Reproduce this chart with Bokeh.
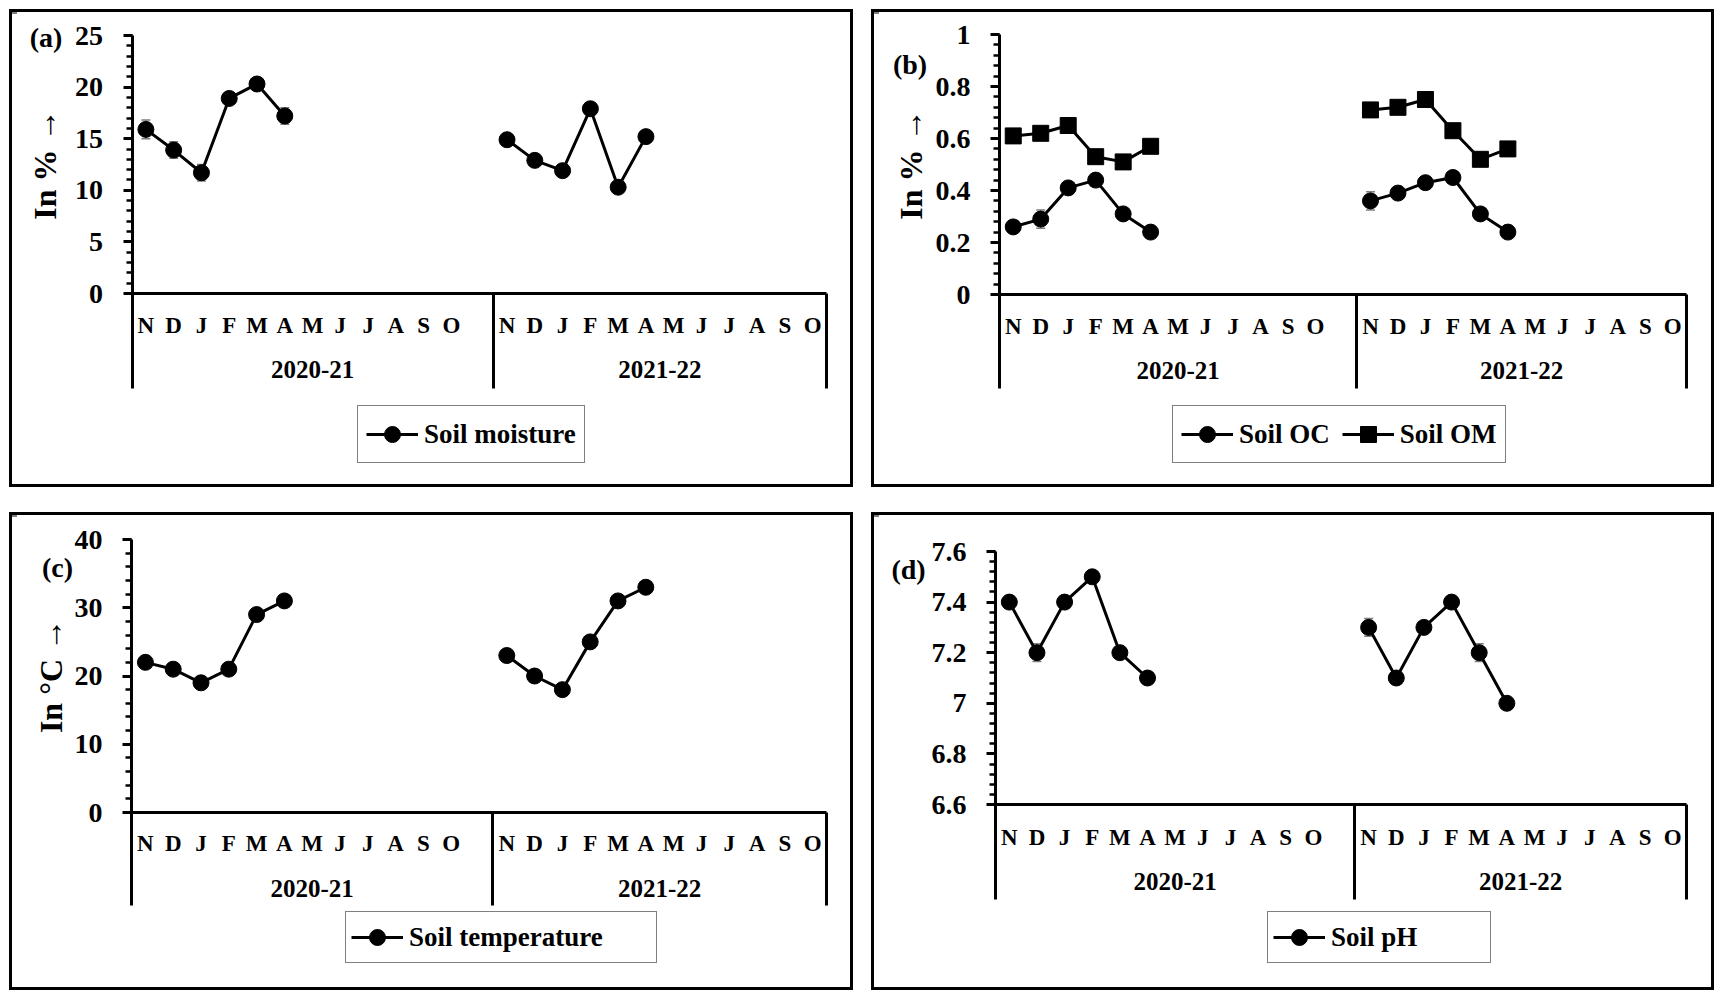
import numpy as np
from bokeh.plotting import figure
from bokeh.models import (Range1d, LinearAxis, FixedTicker, Legend, LegendItem,
                          Label, Whisker, ColumnDataSource, Spacer, TeeHead)
from bokeh.layouts import column, row
from bokeh.embed import file_html
from bokeh.resources import INLINE

# ---------------- data ----------------
months = ["N", "D", "J", "F", "M", "A", "M", "J", "J", "A", "S", "O"]
seasons = ["2020-21", "2021-22"]

moisture_2021 = [15.9, 13.9, 11.7, 18.9, 20.3, 17.2]
moisture_2122 = [14.9, 12.9, 11.9, 17.9, 10.3, 15.2]
moisture_err_2021 = [0.9, 0.8, 0.8, 0.3, 0.4, 0.8]
moisture_err_2122 = [0.2, 0.2, 0.2, 0.2, 0.2, 0.2]

oc_2021 = [0.26, 0.29, 0.41, 0.44, 0.31, 0.24]
oc_2122 = [0.36, 0.39, 0.43, 0.45, 0.31, 0.24]
oc_err_2021 = [0.01, 0.035, 0.01, 0.01, 0.01, 0.01]
oc_err_2122 = [0.035, 0.01, 0.01, 0.01, 0.01, 0.01]

om_2021 = [0.61, 0.62, 0.65, 0.53, 0.51, 0.57]
om_2122 = [0.71, 0.72, 0.75, 0.63, 0.52, 0.56]
om_err_2021 = [0.01, 0.01, 0.01, 0.01, 0.01, 0.01]
om_err_2122 = [0.01, 0.01, 0.01, 0.01, 0.01, 0.01]

temp_2021 = [22, 21, 19, 21, 29, 31]
temp_2122 = [23, 20, 18, 25, 31, 33]
temp_err_2021 = [0.3, 0.3, 0.3, 0.3, 0.3, 0.3]
temp_err_2122 = [0.3, 0.3, 0.3, 0.3, 0.3, 0.3]

ph_2021 = [7.4, 7.2, 7.4, 7.5, 7.2, 7.1]
ph_2122 = [7.3, 7.1, 7.3, 7.4, 7.2, 7.0]
ph_err_2021 = [0.01, 0.035, 0.01, 0.01, 0.01, 0.01]
ph_err_2122 = [0.035, 0.01, 0.01, 0.01, 0.035, 0.01]

# ---------------- layout helpers ----------------
FONT = "Liberation Serif"
N_SLOTS = 25                       # 13 slots for 1st season (one blank), 12 for 2nd
season_start = [0, 13]
month_pos = [season_start[s] + i + 0.5 for s in range(2) for i in range(len(months))]
month_labels = {month_pos[k]: months[k % 12] for k in range(24)}
year_pos = [6.5, 19]
year_labels = {year_pos[0]: seasons[0], year_pos[1]: seasons[1]}
separators = [0, 13, 25]
BORDER = 3


def season_series(v1, v2):
    """spread two seasons' Nov-Apr values over the 24 month slots (NaN = no sample)"""
    out = [np.nan] * 24
    for i, v in enumerate(v1):
        out[i] = v
    for i, v in enumerate(v2):
        out[12 + i] = v
    return out


def make_panel(box, axes_px, yr, yticks, yminor, ylabels, ytitle, title_standoff,
               tag, tag_px, series, legend_box, label_width, label_height, pad, spacing,
               sep_len, month_standoff, year_standoff):
    x0, y0, x1, y1 = box                      # outer panel box on the page
    L, T, R, B = x0 + BORDER, y0 + BORDER, x1 - BORDER, y1 - BORDER
    w, h = R - L, B - T
    ax_l, ax_r, ax_t, ax_b = axes_px          # page pixels of the plotting axes
    ymin, ymax = yr
    kx = (ax_r - ax_l) / N_SLOTS
    ky = (ax_b - ax_t) / (ymax - ymin)
    xs, xe = -(ax_l - L) / kx, N_SLOTS + (R - ax_r) / kx
    ys, ye = ymin - (B - ax_b) / ky, ymax + (ax_t - T) / ky

    p = figure(width=w, height=h, x_range=Range1d(xs, xe), y_range=Range1d(ys, ye),
               x_axis_type=None, y_axis_type=None, toolbar_location=None,
               output_backend="svg", min_border=0,
               background_fill_color="white", border_fill_color="white")
    p.outline_line_color = None

    # y axis
    ya = LinearAxis(ticker=FixedTicker(ticks=yticks, minor_ticks=yminor),
                    major_label_overrides=ylabels, fixed_location=0, bounds=(ymin, ymax))
    ya.axis_line_width = 3
    ya.axis_line_color = "black"
    ya.major_tick_out = 9
    ya.major_tick_in = 0
    ya.major_tick_line_width = 3
    ya.minor_tick_out = 6
    ya.minor_tick_in = 0
    ya.minor_tick_line_width = 2.5
    ya.major_label_text_font = FONT
    ya.major_label_text_font_style = "bold"
    ya.major_label_text_font_size = "28px"
    ya.major_label_text_color = "black"
    ya.major_label_standoff = 20
    if ytitle:
        ya.axis_label = ytitle
        ya.axis_label_text_font = FONT
        ya.axis_label_text_font_style = "bold"
        ya.axis_label_text_font_size = "32px"
        ya.axis_label_text_color = "black"
        ya.axis_label_standoff = title_standoff
    p.add_layout(ya, "left")

    # month axis
    xa = LinearAxis(ticker=FixedTicker(ticks=month_pos, minor_ticks=[]),
                    major_label_overrides=month_labels, fixed_location=ymin,
                    bounds=(0, N_SLOTS))
    xa.axis_line_width = 3
    xa.axis_line_color = "black"
    xa.major_tick_out = 0
    xa.major_tick_in = 0
    xa.major_tick_line_color = None
    xa.minor_tick_line_color = None
    xa.major_label_text_font = FONT
    xa.major_label_text_font_style = "bold"
    xa.major_label_text_font_size = "23px"
    xa.major_label_text_color = "black"
    xa.major_label_standoff = month_standoff
    p.add_layout(xa, "below")

    # season axis
    sa = LinearAxis(ticker=FixedTicker(ticks=year_pos, minor_ticks=[]),
                    major_label_overrides=year_labels, fixed_location=ymin,
                    bounds=(0, N_SLOTS))
    sa.axis_line_color = None
    sa.major_tick_line_color = None
    sa.minor_tick_line_color = None
    sa.major_tick_out = 0
    sa.major_tick_in = 0
    sa.major_label_text_font = FONT
    sa.major_label_text_font_style = "bold"
    sa.major_label_text_font_size = "25px"
    sa.major_label_text_color = "black"
    sa.major_label_standoff = year_standoff
    p.add_layout(sa, "below")

    # season separators (ticks of an unlabeled axis)
    ga = LinearAxis(ticker=FixedTicker(ticks=separators, minor_ticks=[]),
                    major_label_overrides={s: "" for s in separators},
                    fixed_location=ymin, bounds=(0, N_SLOTS))
    ga.axis_line_color = None
    ga.minor_tick_line_color = None
    ga.major_tick_out = sep_len
    ga.major_tick_in = 0
    ga.major_tick_line_width = 3
    ga.major_tick_line_color = "black"
    p.add_layout(ga, "below")

    items = []
    for s in series:
        vals = s["values"]
        errs = s["errors"]
        src = ColumnDataSource(dict(x=month_pos, y=vals,
                                    lo=[v - e for v, e in zip(vals, errs)],
                                    hi=[v + e for v, e in zip(vals, errs)]))
        wk = Whisker(source=src, base="x", lower="lo", upper="hi", dimension="height",
                     line_color="#7f7f7f", line_width=1.5,
                     upper_head=TeeHead(size=9, line_color="#7f7f7f", line_width=1.5),
                     lower_head=TeeHead(size=9, line_color="#7f7f7f", line_width=1.5))
        p.add_layout(wk)
        lr = p.line("x", "y", source=src, line_color="black", line_width=3)
        sr = p.scatter("x", "y", source=src, marker=s["marker"], size=16,
                       fill_color="black", line_color="black")
        items.append(LegendItem(label=s["label"], renderers=[lr, sr]))

    lx0, ly1 = legend_box                     # legend left and bottom on the page
    lg = Legend(items=items, location=(lx0 - L, B - ly1), orientation="horizontal",
                label_text_font=FONT, label_text_font_style="bold",
                label_text_font_size="27px", label_text_color="black",
                glyph_width=52, glyph_height=40, label_standoff=6,
                label_width=label_width, label_height=label_height,
                padding=pad, spacing=spacing, margin=0,
                border_line_color="black", border_line_width=1.5,
                background_fill_color="white", background_fill_alpha=1)
    p.add_layout(lg)

    tx = (tag_px[0] - ax_l) / kx
    ty = ymax - (tag_px[1] - ax_t) / ky
    p.add_layout(Label(x=tx, y=ty, text=tag, text_font=FONT,
                       text_font_style="bold", text_font_size="28px",
                       text_color="black", text_align="center",
                       text_baseline="middle"))
    return column(p, styles={"border": "%dpx solid black" % BORDER})


pa = make_panel((9, 9, 853, 487), (131.5, 826, 35, 293), (0, 25),
                [0, 5, 10, 15, 20, 25], list(range(0, 26)),
                {0: "0", 5: "5", 10: "10", 15: "15", 20: "20", 25: "25"},
                "In % \u2192", 10, "(a)", (45.5, 37),
                [dict(label="Soil moisture", marker="circle",
                      values=season_series(moisture_2021, moisture_2122),
                      errors=season_series(moisture_err_2021, moisture_err_2122))],
                (357, 463), 150, 40, 8, 10, 95, 19, 67)

pb = make_panel((871, 9, 1714, 487), (999, 1686, 34, 294), (0, 1),
                [0, 0.2, 0.4, 0.6, 0.8, 1], [round(0.04 * i, 2) for i in range(26)],
                {0: "0", 0.2: "0.2", 0.4: "0.4", 0.6: "0.6", 0.8: "0.8", 1: "1"},
                "In % \u2192", 4, "(b)", (909.5, 64),
                [dict(label="Soil OC", marker="circle",
                      values=season_series(oc_2021, oc_2122),
                      errors=season_series(oc_err_2021, oc_err_2122)),
                 dict(label="Soil OM", marker="square",
                      values=season_series(om_2021, om_2122),
                      errors=season_series(om_err_2021, om_err_2122))],
                (1172, 463), 0, 40, 8, 12, 94, 19, 67)

pc = make_panel((9, 512, 853, 990), (131, 826, 539, 812), (0, 40),
                [0, 10, 20, 30, 40], list(range(0, 41, 2)),
                {0: "0", 10: "10", 20: "20", 30: "30", 40: "40"},
                "In \u00b0C \u2192", 3, "(c)", (57, 567),
                [dict(label="Soil temperature", marker="circle",
                      values=season_series(temp_2021, temp_2122),
                      errors=season_series(temp_err_2021, temp_err_2122))],
                (345, 963), 242, 40, 5, 10, 93, 18, 67)

pd_ = make_panel((871, 512, 1714, 990), (995, 1686, 551, 804), (6.6, 7.6),
                 [6.6, 6.8, 7.0, 7.2, 7.4, 7.6], [round(6.6 + 0.04 * i, 2) for i in range(26)],
                 {6.6: "6.6", 6.8: "6.8", 7.0: "7", 7.2: "7.2", 7.4: "7.4", 7.6: "7.6"},
                 None, 10, "(d)", (908, 569),
                 [dict(label="Soil pH", marker="circle",
                       values=season_series(ph_2021, ph_2122),
                       errors=season_series(ph_err_2021, ph_err_2122))],
                 (1267, 963), 154, 40, 5, 10, 95, 20, 68)

layout = column(
    Spacer(height=9),
    row(Spacer(width=9), pa, Spacer(width=18), pb),
    Spacer(height=25),
    row(Spacer(width=9), pc, Spacer(width=18), pd_),
)

open("out.html", "w").write(file_html(layout, INLINE))
